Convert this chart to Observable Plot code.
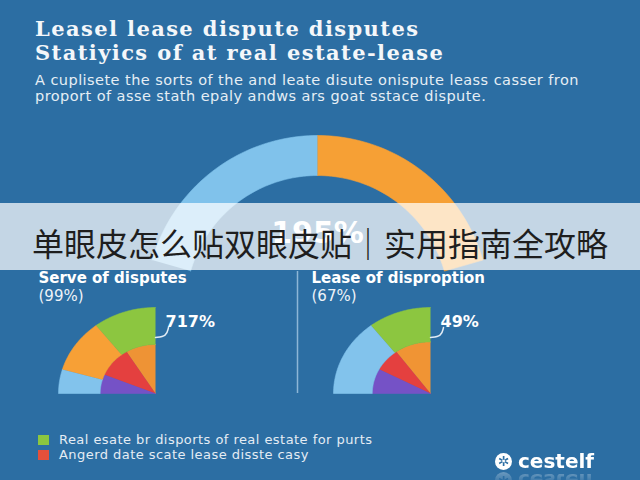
<!DOCTYPE html>
<html>
<head>
<meta charset="utf-8">
<script src="https://cdn.jsdelivr.net/npm/d3@7"></script>
<script src="https://cdn.jsdelivr.net/npm/@observablehq/plot@0.6"></script>
<style>
  html, body { margin: 0; padding: 0; background: #2c6ea3; }
  #page { position: relative; width: 640px; height: 480px; overflow: hidden; background: #2c6ea3; }
  #title { position: absolute; left: 35px; top: 17px; font-family: "DejaVu Serif", serif; font-weight: bold; font-size: 21px; letter-spacing: 1.4px; line-height: 23.5px; color: #f4f7fa; white-space: nowrap; }
  #subtitle { position: absolute; left: 35px; top: 72px; font-family: "DejaVu Sans", sans-serif; font-size: 14.5px; letter-spacing: 0.45px; line-height: 16px; color: #e6eef5; white-space: nowrap; }
  #chart { position: absolute; left: 0; top: 110px; }
  #legend { position: absolute; left: 38px; top: 432px; font-family: "DejaVu Sans", sans-serif; font-size: 13px; letter-spacing: 0.45px; line-height: 15px; color: #e4ecf4; }
  #legend .row { display: flex; align-items: center; white-space: nowrap; }
  #legend .sw { width: 11px; height: 10px; margin-right: 10px; }
  #logo { position: absolute; left: 495px; top: 450px; height: 22px; font-family: "DejaVu Sans", sans-serif; font-weight: bold; font-size: 20px; line-height: 22px; color: #ffffff; display: flex; align-items: center;
          -webkit-box-reflect: below -2px linear-gradient(transparent 30%, rgba(255,255,255,0.35)); }
  #logo .icon { width: 17px; height: 17px; border-radius: 50%; background: #fff; color: #2c6ea3; font-size: 14px; line-height: 17px; text-align: center; margin-right: 6px; }
  #banner { position: absolute; left: 0; top: 203px; width: 640px; height: 67px; background: rgba(255,255,255,0.72); display: flex; align-items: center; justify-content: center; }
  #banner span { font-family: "Noto Sans CJK SC", sans-serif; font-size: 32px; color: #1e1e1e; white-space: nowrap; line-height: 40px; margin-top: 11px; }
</style>
</head>
<body>
<div id="page">
  <div id="title"></div>
  <div id="subtitle"></div>
  <div id="chart"></div>
  <div id="legend"></div>
  <div id="logo"><div class="icon">✲</div><span id="logo-text"></span></div>
  <div id="banner"><span id="banner-text"></span></div>
</div>
<script>
// ---------- data ----------
const titleLines = ["Leasel lease dispute disputes", "Statiyics of at real estate-lease"];
const subtitleLines = [
  "A cuplisete the sorts of the and leate disute onispute leass casser fron",
  "proport of asse stath epaly andws ars goat sstace dispute."
];
const bannerText = "单眼皮怎么贴双眼皮贴｜实用指南全攻略";

const donutValues = [50, 50];
const donutColors = ["#80c2eb", "#f6a035"];
const donutLabel = "195%";

const pieTitles = ["Serve of disputes", "Lease of disproption"];
const pieSubtitles = ["(99%)", "(67%)"];
const pieCallouts = ["717%", "49%"];

const leftInnerValues = [35, 40, 25];
const leftInnerColors = ["#ee9335", "#e4403f", "#7552c6"];
const leftOuterValues = [42, 40, 18];
const leftOuterColors = ["#8cc640", "#f7a036", "#82c3ec"];

const rightInnerValues = [40, 29, 31];
const rightInnerColors = ["#f09434", "#e4403f", "#7552c6"];
const rightOuterValues = [42, 58];
const rightOuterColors = ["#8cc640", "#82c3ec"];

const legendLabels = ["Real esate br disports of real estate for purts", "Angerd date scate lease disste casy"];
const legendColors = ["#8cc640", "#e5503b"];
const logoText = "cestelf";

// ---------- layout (pixels in page space) ----------
const W = 640, TOP = 110, H = 370;
const donutGeom = {cx: 317, cy: 307, rx: 172, ry: 172, r0: 132 / 172, r1: 1, start: -74, span: 148, dir: 1};
const pieGeoms = [
  {cx: 155, cy: 393, rx: 97, ry: 86},
  {cx: 430, cy: 393, rx: 97, ry: 86}
];
const innerSplit = [0.57, 0.6];

function ring(values, colors, g, prefix) {
  const total = d3.sum(values);
  const pts = [];
  let acc = 0;
  values.forEach((v, i) => {
    const a0 = g.start + g.dir * g.span * acc / total;
    acc += v;
    const a1 = g.start + g.dir * g.span * acc / total;
    const id = prefix + i;
    const n = 48;
    for (let k = 0; k <= n; k++) {
      const a = (a0 + (a1 - a0) * k / n) * Math.PI / 180;
      pts.push({id, color: colors[i], x: g.cx + Math.sin(a) * g.rx * g.r1, y: g.cy - Math.cos(a) * g.ry * g.r1});
    }
    if (g.r0 === 0) {
      pts.push({id, color: colors[i], x: g.cx, y: g.cy});
    } else {
      for (let k = n; k >= 0; k--) {
        const a = (a0 + (a1 - a0) * k / n) * Math.PI / 180;
        pts.push({id, color: colors[i], x: g.cx + Math.sin(a) * g.rx * g.r0, y: g.cy - Math.cos(a) * g.ry * g.r0});
      }
    }
  });
  return pts;
}

const shapes = [
  ...ring(donutValues, donutColors, donutGeom, "d"),
  ...ring(leftInnerValues, leftInnerColors, {...pieGeoms[0], r0: 0, r1: innerSplit[0], start: 0, span: 90, dir: -1}, "li"),
  ...ring(leftOuterValues, leftOuterColors, {...pieGeoms[0], r0: innerSplit[0], r1: 1, start: 0, span: 90, dir: -1}, "lo"),
  ...ring(rightInnerValues, rightInnerColors, {...pieGeoms[1], r0: 0, r1: innerSplit[1], start: 0, span: 90, dir: -1}, "ri"),
  ...ring(rightOuterValues, rightOuterColors, {...pieGeoms[1], r0: innerSplit[1], r1: 1, start: 0, span: 90, dir: -1}, "ro")
];

// connectors from pie edge to callout labels
const connectors = pieGeoms.flatMap((g, i) => [
  {id: i, x: g.cx, y: g.cy - 56},
  {id: i, x: g.cx + 11, y: g.cy - 57},
  {id: i, x: g.cx + 13, y: g.cy - 66}
]);

const titleRows = pieGeoms.map((g, i) => ({x: i === 0 ? 38 : 311, y: 278, t: pieTitles[i]}));
const subRows = pieGeoms.map((g, i) => ({x: i === 0 ? 38 : 311, y: 296, t: pieSubtitles[i]}));
const calloutRows = pieGeoms.map((g, i) => ({x: g.cx + 10, y: 321, t: pieCallouts[i]}));

const chart = Plot.plot({
  width: W,
  height: H,
  margin: 0,
  style: {background: "transparent", overflow: "visible"},
  x: {domain: [0, W], range: [0, W], axis: null},
  y: {domain: [TOP, TOP + H], range: [0, H], axis: null},
  color: {type: "identity"},
  marks: [
    Plot.line(shapes, {x: "x", y: "y", z: "id", fill: "color", stroke: "color", strokeWidth: 0.6, curve: "linear"}),
    Plot.text([donutLabel], {x: donutGeom.cx, y: 233, text: d => d, fill: "#ffffff", fontSize: 30, fontWeight: "bold", fontFamily: "DejaVu Sans, sans-serif"}),
    Plot.ruleX([297], {y1: 271, y2: 393, stroke: "#a6c8e4", strokeWidth: 1.5, strokeOpacity: 0.8}),
    Plot.text(titleRows, {x: "x", y: "y", text: "t", textAnchor: "start", fill: "#ffffff", fontSize: 15, fontWeight: "bold", fontFamily: "DejaVu Sans, sans-serif"}),
    Plot.text(subRows, {x: "x", y: "y", text: "t", textAnchor: "start", fill: "#eef3f8", fontSize: 15, fontFamily: "DejaVu Sans, sans-serif"}),
    Plot.line(connectors, {x: "x", y: "y", z: "id", stroke: "#e2ecf5", strokeWidth: 1.5, curve: "basis"}),
    Plot.text(calloutRows, {x: "x", y: "y", text: "t", textAnchor: "start", fill: "#ffffff", fontSize: 16, fontWeight: "bold", fontFamily: "DejaVu Sans, sans-serif"})
  ]
});
document.getElementById("chart").appendChild(chart);

document.getElementById("title").innerHTML = titleLines.map(t => `<div>${t}</div>`).join("");
document.getElementById("subtitle").innerHTML = subtitleLines.map(t => `<div>${t}</div>`).join("");
document.getElementById("banner-text").textContent = bannerText;
document.getElementById("legend").innerHTML = legendLabels.map((t, i) =>
  `<div class="row"><div class="sw" style="background:${legendColors[i]}"></div><span>${t}</span></div>`).join("");
document.getElementById("logo-text").textContent = logoText;
</script>
</body>
</html>
